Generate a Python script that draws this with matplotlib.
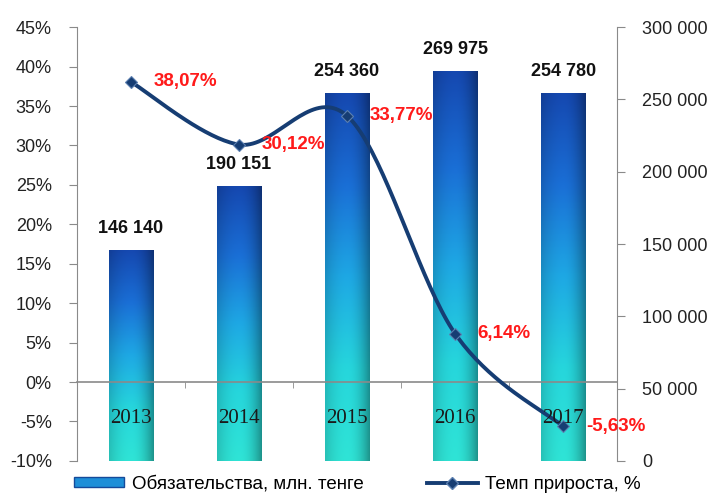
import numpy as np
import matplotlib.pyplot as plt
from matplotlib.colors import LinearSegmentedColormap
from matplotlib.lines import Line2D
from matplotlib.patches import Patch
from matplotlib.ticker import FuncFormatter

years = ['2013', '2014', '2015', '2016', '2017']
liabilities = [146140, 190151, 254360, 269975, 254780]
growth = [38.07, 30.12, 33.77, 6.14, -5.63]
liab_labels = ['146 140', '190 151', '254 360', '269 975', '254 780']
growth_labels = ['38,07%', '30,12%', '33,77%', '6,14%', '-5,63%']

plt.rcParams['font.family'] = ['Liberation Sans', 'DejaVu Sans']

LINE = '#163d73'
GRAY = '#8a8a8a'


def smooth(xs, ys, n=40):
    # catmull-rom curve through the points (like excel "smoothed line")
    xs = np.asarray(xs, float)
    ys = np.asarray(ys, float)
    px = np.concatenate([[xs[0]], xs, [xs[-1]]])
    py = np.concatenate([[ys[0]], ys, [ys[-1]]])
    outx, outy = [], []
    for i in range(1, len(px) - 2):
        t = np.linspace(0, 1, n)
        h00 = 2 * t**3 - 3 * t**2 + 1
        h10 = t**3 - 2 * t**2 + t
        h01 = -2 * t**3 + 3 * t**2
        h11 = t**3 - t**2
        mx0 = (px[i + 1] - px[i - 1]) / 2
        mx1 = (px[i + 2] - px[i]) / 2
        my0 = (py[i + 1] - py[i - 1]) / 2
        my1 = (py[i + 2] - py[i]) / 2
        outx.append(h00 * px[i] + h10 * mx0 + h01 * px[i + 1] + h11 * mx1)
        outy.append(h00 * py[i] + h10 * my0 + h01 * py[i + 1] + h11 * my1)
    return np.concatenate(outx), np.concatenate(outy)


fig = plt.figure(figsize=(7.11, 4.95), dpi=100)
ax = fig.add_axes([0.108, 0.069, 0.76, 0.876])
ax2 = ax.twinx()
ax.set_zorder(ax2.get_zorder() + 1)
ax.patch.set_visible(False)

x = np.arange(len(years))
width = 0.41

# bar gradient: dark blue top -> cyan bottom, darker at the sides
cmap = LinearSegmentedColormap.from_list(
    'bar', ['#1548b0', '#1a6fd6', '#1ea8e4', '#26d6dc', '#2fe4d6'])
vert = np.linspace(0, 1, 200)[:, None]
hor = np.linspace(-1, 1, 60)[None, :]
shade = 1 - 0.35 * np.clip(hor, 0, 1) ** 2 - 0.15 * np.clip(-hor, 0, 1) ** 2

bars = ax2.bar(x, liabilities, width, color='none', edgecolor='none')
for b in bars:
    rgba = cmap(np.repeat(vert, 60, axis=1))
    rgba[..., :3] *= shade[..., None]
    im = ax2.imshow(rgba, extent=[b.get_x(), b.get_x() + b.get_width(), 0, b.get_height()],
                    aspect='auto', origin='upper', zorder=2)
    im.set_clip_path(b)

for xi, v, lbl in zip(x, liabilities, liab_labels):
    ax2.text(xi, v + 9000, lbl, ha='center', va='bottom', fontsize=13,
             fontweight='bold', color='#111111', zorder=5)

ax2.set_ylim(0, 300000)
ax2.set_yticks(np.arange(0, 300001, 50000))
ax2.yaxis.set_major_formatter(FuncFormatter(lambda v, p: f'{int(v):,}'.replace(',', ' ')))

# growth line (left axis)
sx, sy = smooth(x, growth)
ax.plot(sx, sy, color=LINE, lw=2.8, zorder=6, solid_capstyle='round')
ax.plot(x, growth, ls='none', marker='D', ms=6.5, color=LINE,
        markeredgecolor='#5b7fb0', markeredgewidth=0.8, zorder=7)
for xi, v, lbl in zip(x, growth, growth_labels):
    ax.text(xi + 0.21, v, lbl, ha='left', va='center', fontsize=13.5,
            fontweight='bold', color='#ff1a1a', zorder=8)

ax.set_xlim(-0.5, len(years) - 0.5)
ax.set_ylim(-10, 45)
ax.set_yticks(np.arange(-10, 46, 5))
ax.yaxis.set_major_formatter(FuncFormatter(lambda v, p: f'{int(v)}%'))

# category axis sits on the 0% line
ax.spines['bottom'].set_position(('data', 0))
ax.spines['bottom'].set_color(GRAY)
ax.spines['bottom'].set_linewidth(1.2)
ax.set_xticks(x)
ax.set_xticklabels([])
ax.set_xticks(np.arange(0.5, len(years) - 0.5, 1), minor=True)
ax.tick_params(axis='x', which='major', length=0)
ax.tick_params(axis='x', which='minor', length=4, color=GRAY, direction='out')
for xi, yr in zip(x, years):
    ax.text(xi, -4.6, yr, ha='center', va='center', fontsize=15,
            family='Liberation Serif', color='#1a1a1a', zorder=8)

ax.spines['top'].set_visible(False)
ax2.spines['top'].set_visible(False)
ax2.spines['bottom'].set_visible(False)
ax.spines['left'].set_color(GRAY)
ax.spines['right'].set_visible(False)
ax2.spines['left'].set_visible(False)
ax2.spines['right'].set_color(GRAY)
ax.tick_params(axis='y', length=6, color=GRAY, labelsize=13, labelcolor='#222222', pad=12)
ax2.tick_params(axis='y', length=6, color=GRAY, labelsize=13, labelcolor='#222222', pad=12)

handles = [Patch(facecolor='#1e8fd8', edgecolor='#154a9a'),
           Line2D([0], [0], color=LINE, lw=2.8, marker='D', ms=6.5,
                  markeredgecolor='#5b7fb0')]
fig.legend(handles, ['Обязательства, млн. тенге', 'Темп прироста, %'],
           loc='center left', bbox_to_anchor=(0.085, 0.022), ncol=2, frameon=False,
           fontsize=13.5, handlelength=2.7, handleheight=0.5, columnspacing=3.4,
           handletextpad=0.4, borderpad=0.2)

fig.savefig('out.png', dpi=100)
